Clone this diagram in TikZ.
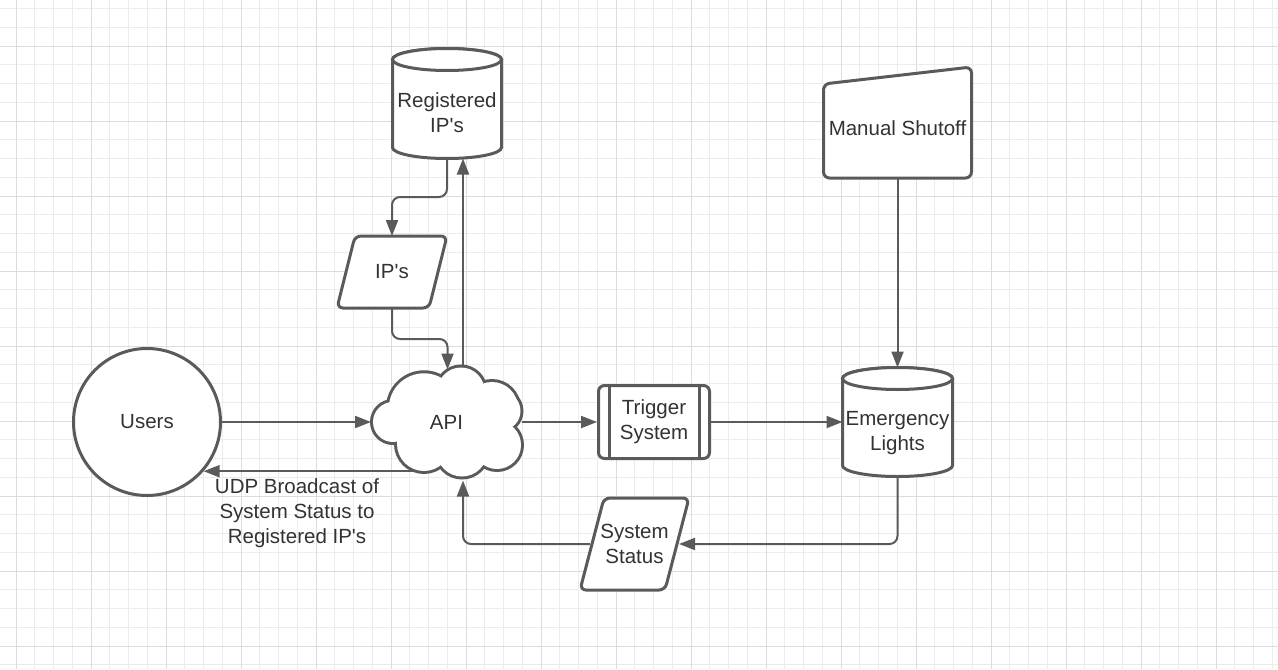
\documentclass[tikz,border=0pt]{standalone}
\usepackage{fontspec}
\setmainfont{Liberation Sans}
\usetikzlibrary{arrows.meta,calc}
\definecolor{ln}{HTML}{5A5A5A}
\definecolor{tx}{HTML}{333333}
\definecolor{gminor}{HTML}{ECECEC}
\definecolor{gmajor}{HTML}{DCDCDC}
\begin{document}
\begin{tikzpicture}[x=0.5pt,y=-0.5pt,
  shp/.style={draw=ln,line width=1.5pt,fill=white},
  box/.style={inner sep=0pt,outer sep=0pt,draw=none},
  txt/.style={text=tx,font=\fontsize{10.25pt}{12.5pt}\selectfont,align=center,inner sep=0pt},
  arr/.style={draw=ln,line width=1pt,-{Triangle[length=8pt,width=6pt]},rounded corners=4pt},
  gridminor/.style={draw=gminor,line width=0.5pt},
  gridmajor/.style={draw=gmajor,line width=0.5pt},
  cloudstroke/.style={draw=ln,line width=3pt},
]
\useasboundingbox (0,0) rectangle (1278,669);
\fill[white] (0,0) rectangle (1278,669);
% grid
\foreach \i in {0,...,67} \draw[gridminor] ({16+18.75*\i},0) -- ({16+18.75*\i},669);
\foreach \j in {0,...,35} \draw[gridminor] (0,{8.5+18.75*\j}) -- (1278,{8.5+18.75*\j});
\foreach \i in {0,...,16} \draw[gridmajor] ({16+75*\i},0) -- ({16+75*\i},669);
\foreach \j in {0,...,8} \draw[gridmajor] (0,{46+75*\j}) -- (1278,{46+75*\j});

% nodes
\node[shp,circle,minimum size=73.5pt,txt] (users) at (147,422) {Users};
\node[box,minimum width=75.5pt,minimum height=55.5pt] (api) at (446.5,422) {};
\node[box,minimum width=54.5pt,minimum height=55pt] (reg) at (447,103.5) {};
\node[box,minimum width=55pt,minimum height=36pt] (ips) at (392,272) {};
\node[shp,rounded corners=3pt,minimum width=55.5pt,minimum height=36.5pt,txt] (trig) at (654,422) {Trigger\\System};
\node[box,minimum width=55pt,minimum height=54.5pt] (emerg) at (897.5,422) {};
\node[box,minimum width=74pt,minimum height=55.5pt] (manual) at (897.5,122.5) {};
\node[box,minimum width=54.5pt,minimum height=46pt] (sys) at (634.5,544) {};

% API -> Users (drawn under the cloud)
\coordinate (uin) at (users.-41.5);
\path (api.west |- uin) coordinate (apiout);
\draw[arr] ([xshift=29.5pt]apiout) -- (uin);

% cloud
\foreach \cx/\cy/\r in {393/422/10,424/408.5/17.6,461/391/11.75,492/408/13,501/411/9.75,497/445/12,462/451.3/12.6,424/444/13.5}
  \draw[cloudstroke] (\cx,\cy) circle[radius=\r pt];
\foreach \cx/\cy/\r in {393/422/10,424/408.5/17.6,461/391/11.75,492/408/13,501/411/9.75,497/445/12,462/451.3/12.6,424/444/13.5}
  \fill[white] (\cx,\cy) circle[radius=\r pt];
\fill[white] (400,395) rectangle (495,455);
\node[txt] (apitxt) at (api.center) {API};

% Registered IP's cylinder
\filldraw[shp] ([yshift=-5.5pt]reg.north west) -- ([yshift=5.5pt]reg.south west)
  arc[start angle=180,end angle=360,x radius=27.25pt,y radius=5.5pt]
  -- ([yshift=-5.5pt]reg.north east)
  arc[start angle=0,end angle=180,x radius=27.25pt,y radius=5.5pt] -- cycle;
\draw[shp] ([yshift=-5.5pt]reg.north) ellipse[x radius=27.25pt,y radius=5.5pt];
\node[txt] (regtxt) at ([yshift=-4.5pt]reg.center) {Registered\\IP\textquotesingle s};

% Emergency Lights cylinder
\filldraw[shp] ([yshift=-5.5pt]emerg.north west) -- ([yshift=5.5pt]emerg.south west)
  arc[start angle=180,end angle=360,x radius=27.5pt,y radius=5.5pt]
  -- ([yshift=-5.5pt]emerg.north east)
  arc[start angle=0,end angle=180,x radius=27.5pt,y radius=5.5pt] -- cycle;
\draw[shp] ([yshift=-5.5pt]emerg.north) ellipse[x radius=27.5pt,y radius=5.5pt];
\node[txt] (emergtxt) at ([yshift=-5.5pt]emerg.center) {Emergency\\Lights};

% IP's parallelogram
\filldraw[shp,rounded corners=3pt] ([xshift=9pt]ips.north west) -- (ips.north east)
  -- ([xshift=-9pt]ips.south east) -- (ips.south west) -- cycle;
\node[txt] (ipstxt) at (ips.center) {IP\textquotesingle s};

% System Status parallelogram
\filldraw[shp,rounded corners=3pt] ([xshift=12pt]sys.north west) -- (sys.north east)
  -- ([xshift=-12pt]sys.south east) -- (sys.south west) -- cycle;
\node[txt] (systxt) at (sys.center) {System\\Status};

% Manual Shutoff
\filldraw[shp,rounded corners=3pt] ([yshift=-8.5pt]manual.north west) -- (manual.north east)
  -- (manual.south east) -- (manual.south west) -- cycle;
\node[txt] (mantxt) at ([yshift=-2.75pt]manual.center) {Manual Shutoff};

% Trigger inner bars
\draw[draw=ln,line width=1.5pt] ([xshift=-22.5pt]trig.north) -- ([xshift=-22.5pt]trig.south);
\draw[draw=ln,line width=1.5pt] ([xshift=22.5pt]trig.north) -- ([xshift=22.5pt]trig.south);

% connectors
\draw[arr] (users.east) -- (api.west);
\draw[arr] (reg.south) -- ++(0,38.5) -| (ips.north);
\draw[arr] (ips.south) -- ++(0,31) -| ([shift={(0.5pt,-1.5pt)}]api.north);
\draw[arr] ([xshift=8.25pt]api.north) -- ([xshift=8pt]reg.south);
\draw[arr] (api.east) -- (trig.west);
\draw[arr] (trig.east) -- (emerg.west);
\draw[arr] (manual.south) -- (emerg.north);
\draw[arr] (emerg.south) |- ([xshift=-5pt]sys.east);
\draw[arr] ([xshift=5pt]sys.west) -| ([shift={(8.25pt,-1.5pt)}]api.south);

\node[txt] (udp) at (297,513) {UDP Broadcast of\\System Status to\\Registered IP\textquotesingle s};
\end{tikzpicture}
\end{document}
